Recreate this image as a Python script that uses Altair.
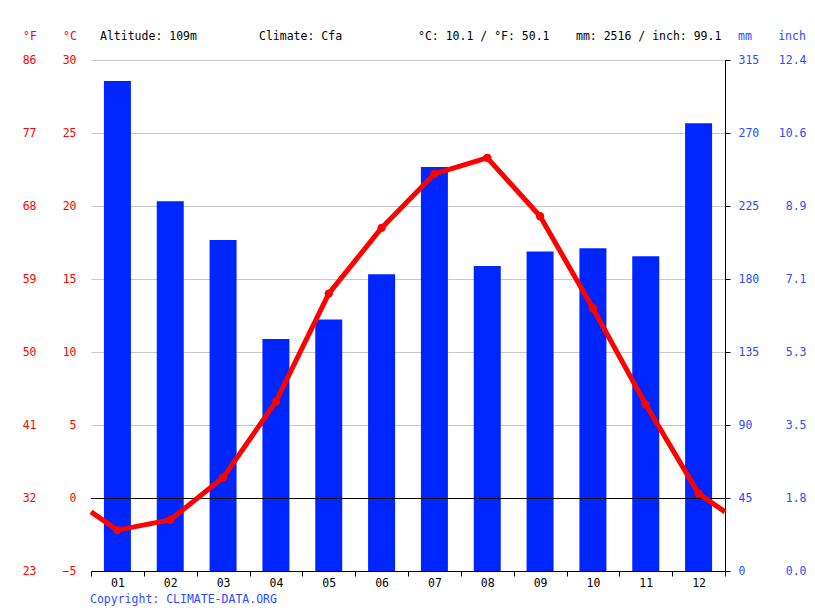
import altair as alt
import pandas as pd

# ---- data ----
months = ["01", "02", "03", "04", "05", "06", "07", "08", "09", "10", "11", "12"]
temp_c = [-2.2, -1.5, 1.4, 6.6, 14.0, 18.5, 22.2, 23.3, 19.3, 13.0, 6.4, 0.3]
precip_mm = [302, 228, 204, 143, 155, 183, 249, 188, 197, 199, 194, 276]
c_ticks = [-5, 0, 5, 10, 15, 20, 25, 30]
mm_ticks = [0, 45, 90, 135, 180, 225, 270, 315]
header_alt = "Altitude: 109m"
header_climate = "Climate: Cfa"
header_temp = "°C: 10.1 / °F: 50.1"
header_prec = "mm: 2516 / inch: 99.1"
copyright_txt = "Copyright: CLIMATE-DATA.ORG"

FONT = "DejaVu Sans Mono"
FS = 11.5
RED = "#ff0000"
BAR_BLUE = "#0026ff"
TXT_BLUE = "#2b4cff"
W, H = 634, 511

pos = [i + 0.5 for i in range(len(months))]
bars_df = pd.DataFrame({"pos": pos, "mm": precip_mm, "month": months})
edge = (temp_c[0] + temp_c[-1]) / 2  # line wraps Dec -> Jan at chart edges
line_df = pd.DataFrame({"pos": [0] + pos + [12], "t": [edge] + temp_c + [edge]})
pts_df = pd.DataFrame({"pos": pos, "t": temp_c})

label_js = "[" + ",".join(f"'{m}'" for m in months) + "]"
xscale = alt.Scale(domain=[0, 12], nice=False, zero=False, padding=0)
xaxis = alt.Axis(
    values=list(range(13)),
    labelExpr=f"datum.value < 12 ? {label_js}[datum.value] : ''",
    labelOffset=W / 24,
    labelFlush=False,
    labelOverlap=False,
    grid=False,
    domain=True,
    domainColor="black",
    ticks=True,
    tickColor="black",
    tickSize=5,
    labelFont=FONT,
    labelFontSize=FS,
    labelColor="#000000",
    labelPadding=1,
    title=None,
)
x_enc = alt.X("pos:Q", scale=xscale, axis=xaxis)

t_scale = alt.Scale(domain=[-5, 30], nice=False, zero=False)
mm_scale = alt.Scale(domain=[0, 315], nice=False, zero=False)
f_scale = alt.Scale(domain=[c_ticks[0] * 1.8 + 32, c_ticks[-1] * 1.8 + 32], nice=False, zero=False)
in_scale = alt.Scale(domain=[0, mm_ticks[-1] / 25.4], nice=False, zero=False)

bars = alt.Chart(bars_df).mark_bar(color=BAR_BLUE, size=27).encode(
    x=x_enc,
    y=alt.Y("mm:Q", scale=mm_scale, axis=alt.Axis(
        orient="right", values=mm_ticks, grid=False, domain=True, domainColor="black",
        ticks=True, tickColor="black", tickSize=5, labelPadding=8, labelAlign="left",
        labelColor=TXT_BLUE, labelFont=FONT, labelFontSize=FS, title=None)),
)

inch_layer = alt.Chart(bars_df).transform_calculate(inch="datum.mm / 25.4").mark_point(opacity=0).encode(
    x=x_enc,
    y=alt.Y("inch:Q", scale=in_scale, axis=alt.Axis(
        orient="right", values=[m / 25.4 for m in mm_ticks], format=".1f", grid=False,
        domain=False, ticks=False, tickSize=0, offset=81, labelPadding=0, labelAlign="right",
        labelColor=TXT_BLUE, labelFont=FONT, labelFontSize=FS, title=None)),
)

f_layer = alt.Chart(pts_df).transform_calculate(f="datum.t * 9 / 5 + 32").mark_point(opacity=0).encode(
    x=x_enc,
    y=alt.Y("f:Q", scale=f_scale, axis=alt.Axis(
        orient="left", values=[c * 1.8 + 32 for c in c_ticks], format="d", grid=False,
        domain=False, ticks=False, tickSize=0, offset=55, labelPadding=0, labelAlign="right",
        labelColor=RED, labelFont=FONT, labelFontSize=FS, title=None)),
)

line = alt.Chart(line_df).mark_line(color=RED, strokeWidth=5, strokeJoin="round").encode(
    x=x_enc,
    y=alt.Y("t:Q", scale=t_scale, axis=alt.Axis(
        orient="left", values=c_ticks, grid=True, gridColor="#c8c8c8", gridWidth=1,
        domain=False, ticks=False, tickSize=0, labelPadding=15, labelAlign="right",
        labelColor=RED, labelFont=FONT, labelFontSize=FS, title=None)),
)

zero_rule = alt.Chart(pts_df).mark_rule(color="black", strokeWidth=1, yOffset=0.5).encode(
    y=alt.datum(0, scale=t_scale, axis=None),
)

points = alt.Chart(pts_df).mark_circle(color=RED, size=70, opacity=1).encode(
    x=x_enc,
    y=alt.Y("t:Q", scale=t_scale, axis=None),
)


def txt(s, x, y, color="#000000", align="left"):
    return alt.Chart(pd.DataFrame({"s": [s]})).mark_text(
        font=FONT, fontSize=FS, color=color, align=align, baseline="middle"
    ).encode(x=alt.value(x), y=alt.value(y), text="s:N")


texts = [
    txt("°F", -61, -23, RED, "center"),
    txt("°C", -21, -23, RED, "center"),
    txt(header_alt, 9, -23),
    txt(header_climate, 168, -23),
    txt(header_temp, 327, -23),
    txt(header_prec, 485, -23),
    txt("mm", 654, -23, TXT_BLUE, "center"),
    txt("inch", 701, -23, TXT_BLUE, "center"),
    txt(copyright_txt, -1, 540, TXT_BLUE),
]

chart = alt.layer(bars, inch_layer, f_layer, zero_rule, line, points, *texts).resolve_scale(
    y="independent"
).properties(
    width=W,
    height=H,
    padding={"left": 83, "top": 52, "right": 82, "bottom": 36},
    autosize=alt.AutoSizeParams(type="none"),
).configure_view(stroke=None)

chart.save("out.html", embed_options={"renderer": "svg", "actions": False})
